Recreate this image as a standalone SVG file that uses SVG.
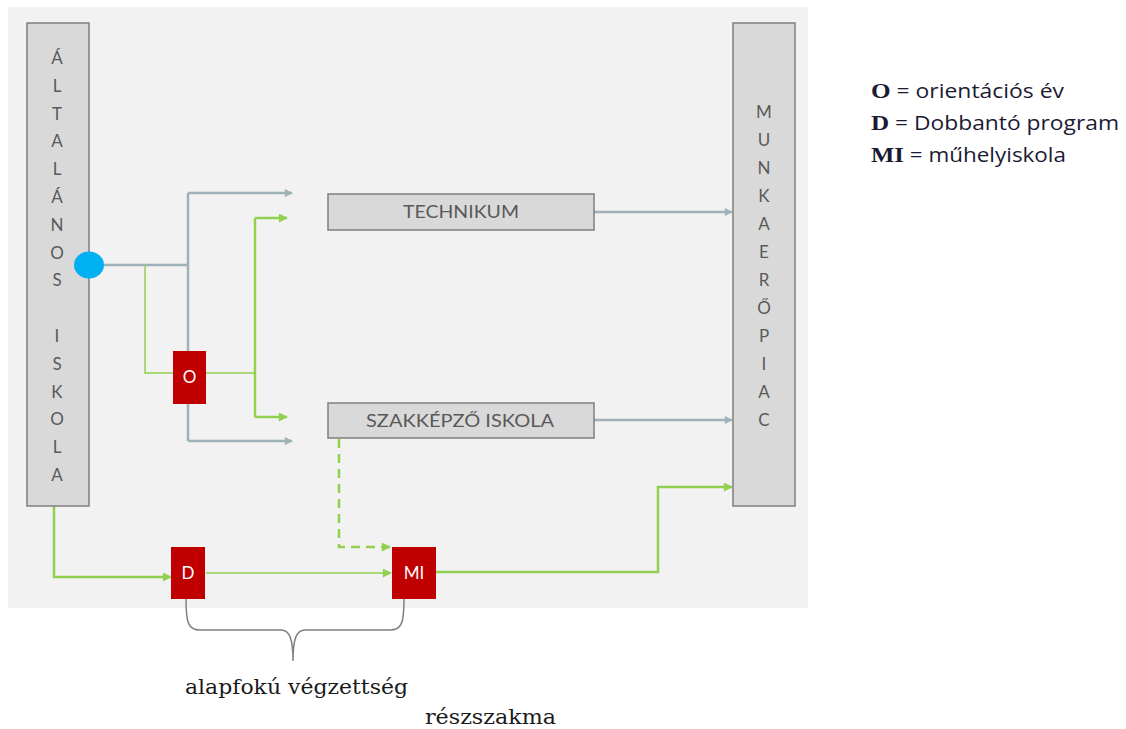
<svg xmlns="http://www.w3.org/2000/svg" width="1126" height="729" viewBox="0 0 1126 729">
<defs>
<style>
.box{fill:#d9d9d9;stroke:#7f7f7f;stroke-width:1.5}
.red{fill:#c00000}
.lt{font-family:Lato,"Open Sans",sans-serif;font-size:17px;fill:#595959;text-anchor:middle}
.wt{font-family:Lato,"Open Sans",sans-serif;font-size:17px;fill:#ffffff;text-anchor:middle}
.gray{fill:none;stroke:#9fb1b9;stroke-width:2.5}
.grn{fill:none;stroke:#92d050;stroke-width:2.5}
.grnt{fill:none;stroke:#92d050;stroke-width:1.5}
.dash{fill:none;stroke:#92d050;stroke-width:2.5;stroke-dasharray:9,6}
.leg{font-family:"Open Sans","Noto Sans",sans-serif;font-size:20px;fill:#1c1a33}
.ser{font-family:"Liberation Serif","DejaVu Serif",serif;font-weight:bold}
.bt{font-family:"DejaVu Serif","Liberation Serif",serif;font-size:20px;fill:#1a1a1a}
</style>
<marker id="ag" viewBox="0 0 10 10" refX="9" refY="5" markerWidth="9" markerHeight="8" markerUnits="userSpaceOnUse" orient="auto"><path d="M0,0 L10,5 L0,10 z" fill="#9fb1b9"/></marker>
<marker id="an" viewBox="0 0 10 10" refX="9" refY="5" markerWidth="10" markerHeight="9" markerUnits="userSpaceOnUse" orient="auto"><path d="M0,0 L10,5 L0,10 z" fill="#92d050"/></marker>
</defs>
<rect x="0" y="0" width="1126" height="729" fill="#ffffff"/>
<rect x="8" y="7" width="800" height="601" fill="#f2f2f2"/>

<g id="connectors">
<path class="gray" d="M104,265 H188"/>
<path class="gray" d="M188,193 V441"/>
<path class="gray" d="M188,193 H292" marker-end="url(#ag)"/>
<path class="gray" d="M188,441 H292" marker-end="url(#ag)"/>
<path class="grnt" d="M145,265 V373 H173"/>
<path class="grnt" d="M206,373 H255"/>
<path class="grn" d="M255,218 V417"/>
<path class="grn" d="M255,218 H287" marker-end="url(#an)"/>
<path class="grn" d="M255,417 H287" marker-end="url(#an)"/>
<path class="gray" d="M594,212 H732" marker-end="url(#ag)"/>
<path class="gray" d="M594,420 H732" marker-end="url(#ag)"/>
<path class="dash" d="M339,439 V547 H390" marker-end="url(#an)"/>
<path class="grn" d="M54,506 V577 H171" marker-end="url(#an)"/>
<path class="grnt" d="M206,573 H391" marker-end="url(#an)"/>
<path class="grn" d="M436,572 H658 V487 H732" marker-end="url(#an)"/>
<path d="M186,599 C186,622 188,630 200,630 L281,630 C290,630 293,640 293,661 C293,640 296,630 305,630 L390,630 C402,630 404,622 404,599" fill="none" stroke="#808080" stroke-width="1.5"/>
</g>

<g id="altalanos-iskola">
<rect class="box" x="27" y="23" width="62" height="483"/>
<text class="lt" x="57" y="64">Á</text>
<text class="lt" x="57" y="92">L</text>
<text class="lt" x="57" y="120">T</text>
<text class="lt" x="57" y="147">A</text>
<text class="lt" x="57" y="175">L</text>
<text class="lt" x="57" y="203">Á</text>
<text class="lt" x="57" y="231">N</text>
<text class="lt" x="57" y="259">O</text>
<text class="lt" x="57" y="286">S</text>
<text class="lt" x="57" y="342">I</text>
<text class="lt" x="57" y="370">S</text>
<text class="lt" x="57" y="398">K</text>
<text class="lt" x="57" y="425">O</text>
<text class="lt" x="57" y="453">L</text>
<text class="lt" x="57" y="481">A</text>
</g>

<g id="junction">
<ellipse cx="89" cy="265" rx="15" ry="13.5" fill="#00b0f0"/>
</g>

<g id="o-box">
<rect class="red" x="173" y="351" width="33" height="53"/>
<text class="wt" x="189.5" y="383">O</text>
</g>

<g id="technikum">
<rect class="box" x="328" y="194" width="266" height="36"/>
<text class="lt" x="461" y="218" textLength="116" lengthAdjust="spacingAndGlyphs">TECHNIKUM</text>
</g>

<g id="szakkepzo">
<rect class="box" x="328" y="403" width="266" height="35"/>
<text class="lt" x="460" y="427" textLength="188" lengthAdjust="spacingAndGlyphs">SZAKKÉPZŐ ISKOLA</text>
</g>

<g id="munkaeropiac">
<rect class="box" x="733" y="23" width="62" height="483"/>
<text class="lt" x="764" y="118">M</text>
<text class="lt" x="764" y="146">U</text>
<text class="lt" x="764" y="174">N</text>
<text class="lt" x="764" y="202">K</text>
<text class="lt" x="764" y="230">A</text>
<text class="lt" x="764" y="258">E</text>
<text class="lt" x="764" y="286">R</text>
<text class="lt" x="764" y="314">Ő</text>
<text class="lt" x="764" y="342">P</text>
<text class="lt" x="764" y="370">I</text>
<text class="lt" x="764" y="398">A</text>
<text class="lt" x="764" y="426">C</text>
</g>

<g id="d-box">
<rect class="red" x="171" y="547" width="34" height="52"/>
<text class="wt" x="188" y="579">D</text>
</g>

<g id="mi-box">
<rect class="red" x="392" y="547" width="44" height="52"/>
<text class="wt" x="414" y="579">MI</text>
</g>

<g id="legend">
<text class="leg" x="871" y="98" textLength="193" lengthAdjust="spacingAndGlyphs"><tspan class="ser" font-size="22">O</tspan> = orientációs év</text>
<text class="leg" x="871" y="130" textLength="248" lengthAdjust="spacingAndGlyphs"><tspan class="ser" font-size="22">D</tspan> = Dobbantó program</text>
<text class="leg" x="871" y="162" textLength="195" lengthAdjust="spacingAndGlyphs"><tspan class="ser" font-size="22">MI</tspan> = műhelyiskola</text>
</g>

<g id="labels">
<text class="bt" x="185" y="694" textLength="223" lengthAdjust="spacingAndGlyphs">alapfokú végzettség</text>
<text class="bt" x="425" y="724" textLength="131" lengthAdjust="spacingAndGlyphs">részszakma</text>
</g>
</svg>
